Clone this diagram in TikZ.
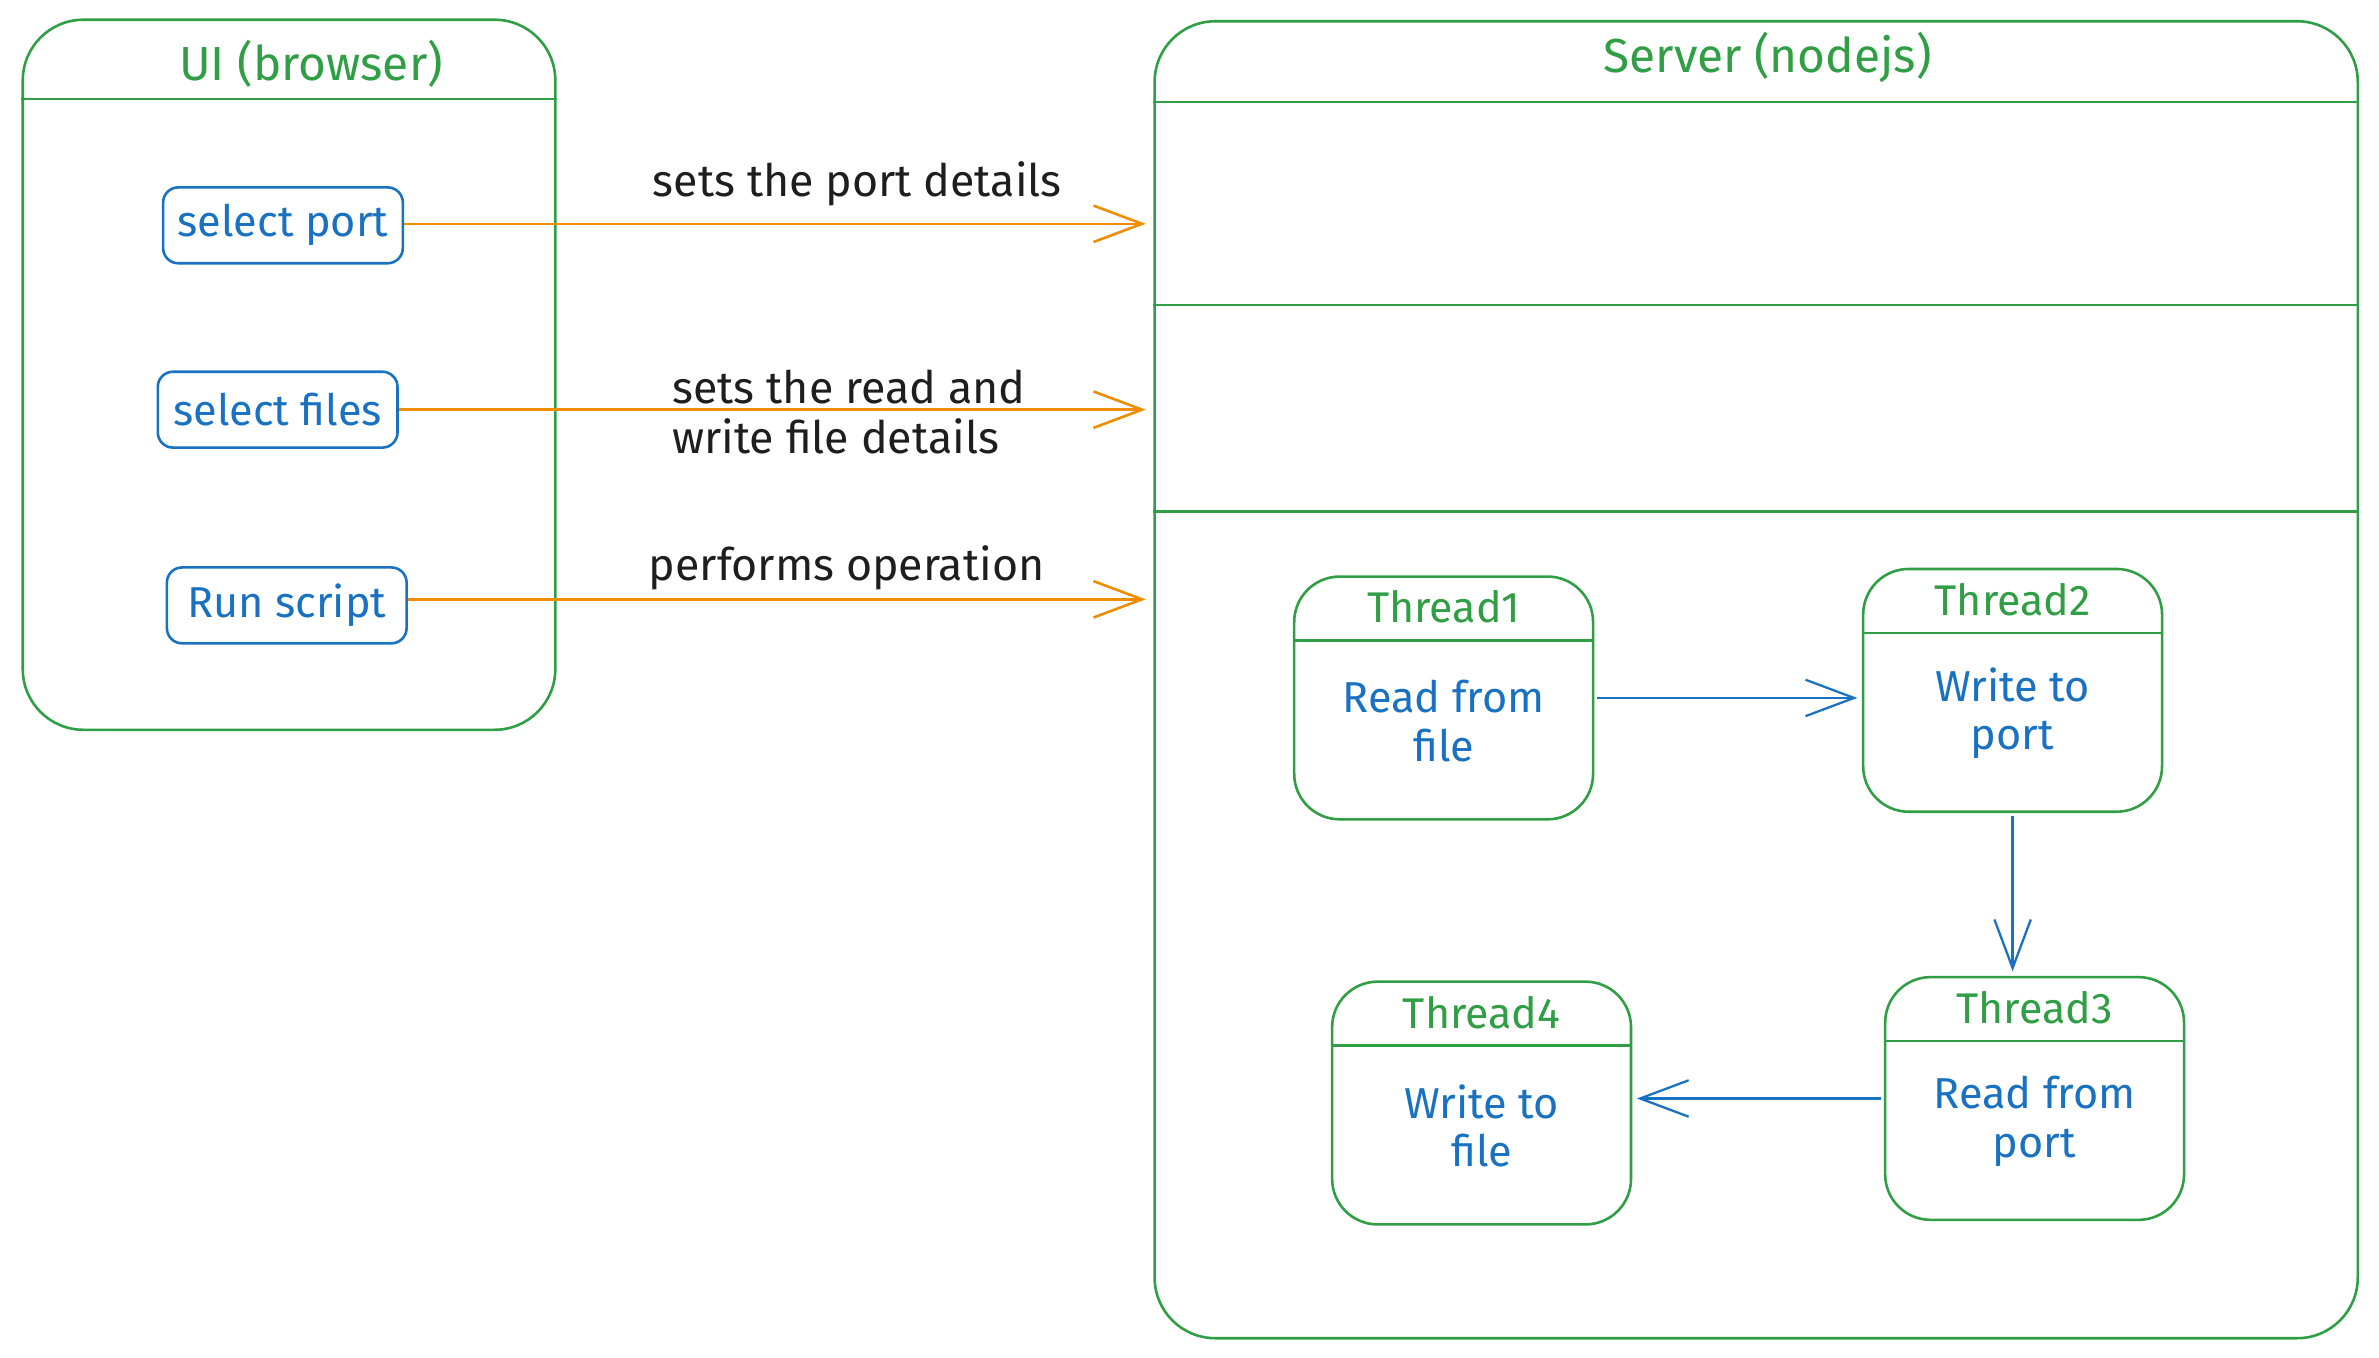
\documentclass[tikz,border=0pt]{standalone}
\usepackage{fontspec}
\setmainfont{Fira Sans}
\usetikzlibrary{arrows.meta}
\definecolor{xgreen}{HTML}{2F9E44}
\definecolor{xblue}{HTML}{1971C2}
\definecolor{xorange}{HTML}{F08C00}
\definecolor{xblack}{HTML}{1E1E1E}
\tikzset{
  dims/.style 2 args={minimum width=#1, minimum height=#2, inner sep=0pt},
  container/.style={draw=xgreen, line width=1.7pt, rounded corners=40pt},
  thread/.style={draw=xgreen, line width=1.7pt, rounded corners=30pt, dims={197pt}{160pt}},
  action/.style={draw=xblue, line width=1.7pt, rounded corners=10pt, dims={158pt}{50pt},
     text=xblue, font=\fontsize{28.5}{32}\selectfont},
  sep/.style={draw=xgreen, line width=1.7pt},
  ctitle/.style={text=xgreen, font=\fontsize{31.5}{36}\selectfont, inner sep=0pt},
  ttitle/.style={text=xgreen, font=\fontsize{28.3}{32}\selectfont, inner sep=0pt},
  body/.style={text=xblue, font=\fontsize{28.5}{32}\selectfont, align=center, inner sep=0pt},
  lbl/.style={text=xblack, font=\fontsize{29.5}{33}\selectfont, inner sep=0pt},
  oarrow/.style={draw=xorange, line width=1.7pt, -{Straight Barb[length=32pt,width=24pt]}, shorten >=5pt},
  barrow/.style={draw=xblue, line width=1.5pt, -{Straight Barb[length=32pt,width=24pt]}, shorten >=3pt, shorten <=2pt},
}
\begin{document}
\begin{tikzpicture}[x=1pt,y=-1pt]
\useasboundingbox[fill=white] (0,0) rectangle (1568,895);
% UI container
\node[container, dims={351pt}{468pt}] (ui) at (190.5,247) {};
\draw[sep] ([yshift=-53pt]ui.north west) -- ([yshift=-53pt]ui.north east);
\node[ctitle] (uit) at (205,42) {UI (browser)};
% Server container
\node[container, dims={793pt}{868pt}] (srv) at (1157.5,448) {};
\draw[sep] ([yshift=-54pt]srv.north west) -- ([yshift=-54pt]srv.north east);
\draw[sep] ([yshift=-188pt]srv.north west) -- ([yshift=-188pt]srv.north east);
\draw[sep] ([yshift=-324pt]srv.north west) -- ([yshift=-324pt]srv.north east);
\node[ctitle] (srvt) at (1165,38) {Server (nodejs)};
% actions
\node[action] (sp) at (186.5,148.5) {select port};
\node[action] (sf) at (183,270) {select files};
\node[action] (rs) at (189,399) {Run script};
% orange arrows
\draw[oarrow] ([yshift=1pt]sp.east) -- ([yshift=1pt]sp.east -| srv.west);
\draw[oarrow] (sf.east) -- (sf.east -| srv.west);
\draw[oarrow] ([yshift=4pt]rs.east) -- ([yshift=4pt]rs.east -| srv.west);
\node[lbl] (l1) at (565,121) {sets the port details};
\node[lbl, align=left, anchor=west] (l2) at (443,271.5) {sets the read and\\write file details};
\node[lbl] (l3) at (558,374) {performs operation};
% threads
\node[thread] (t1) at (951.5,460) {};
\node[thread] (t2) at (1326.5,455) {};
\node[thread] (t3) at (1341,724) {};
\node[thread] (t4) at (976.5,727) {};
\foreach \t/\n/\b in {t1/Thread1/{Read from\\file}, t2/Thread2/{Write to\\port}, t3/Thread3/{Read from\\port}, t4/Thread4/{Write to\\file}}{
  \draw[sep] ([yshift=-43pt]\t.north west) -- ([yshift=-43pt]\t.north east);
  \node[ttitle] (\t-title) at ([yshift=-21pt]\t.north) {\n};
  \node[body] (\t-body) at ([yshift=-96pt]\t.north) {\b};
}
% blue arrows
\draw[barrow] (t1.east) -- (t1.east -| t2.west);
\draw[barrow] (t2.south) -- (t2.south |- t3.north);
\draw[barrow] (t3.west) -- (t3.west -| t4.east);
\end{tikzpicture}
\end{document}
